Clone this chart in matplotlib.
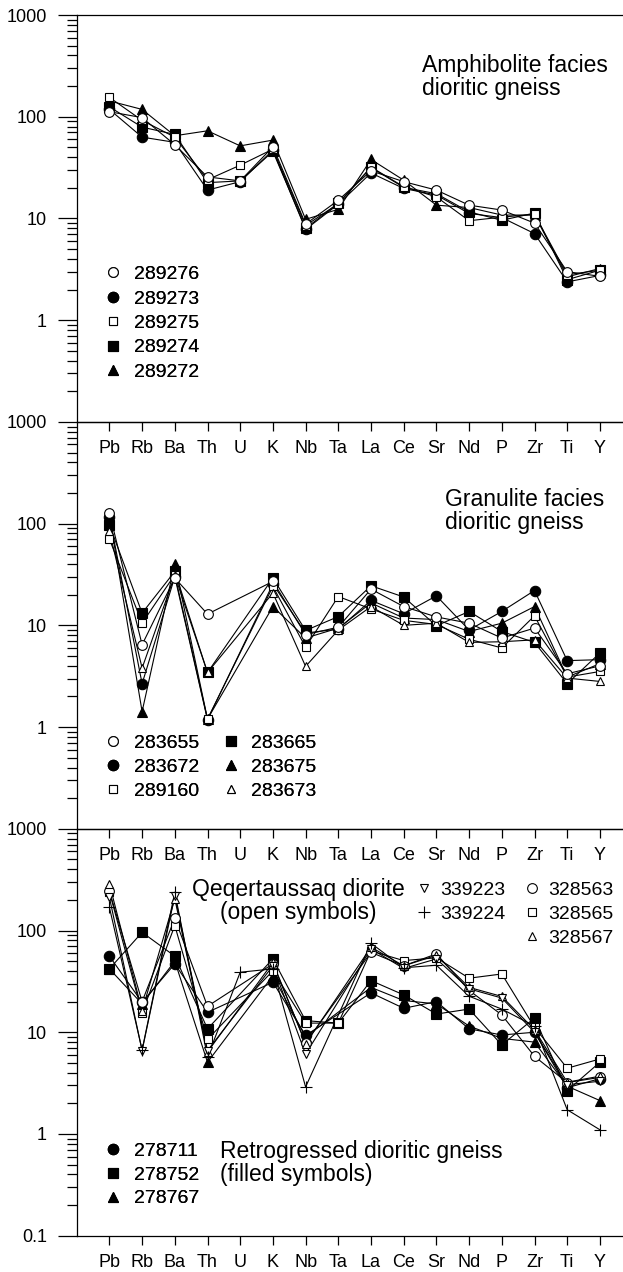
import numpy as np
import matplotlib
matplotlib.use('Agg')
import matplotlib.pyplot as plt
from matplotlib.lines import Line2D
from matplotlib.ticker import LogLocator, NullFormatter

plt.rcParams['font.family'] = ['Liberation Sans', 'DejaVu Sans']

nan = np.nan
elements = ['Pb', 'Rb', 'Ba', 'Th', 'U', 'K', 'Nb', 'Ta', 'La', 'Ce', 'Sr', 'Nd', 'P', 'Zr', 'Ti', 'Y']

# amphibolite facies dioritic gneiss
s289276 = [112, 98, 53, 25.6, 23.4, 50.6, 8.8, 15.1, 29.4, 23, 19, 13.5, 12.1, 9.0, 3.0, 2.7]
s289273 = [118, 63, 56, 19, 23, 47, 7.8, 13.8, 28, 19.7, 17, 11.2, 10.2, 7.1, 2.38, 2.75]
s289275 = [155, 92, 63, 24, 33.4, 48, 8.5, 14, 32, 20.5, 16.3, 9.5, 10.3, 11, 2.8, 3.1]
s289274 = [125, 79, 67, 22.5, 23.4, 45.6, 8.0, 14.1, 31.7, 20.2, 17.5, 11.6, 9.6, 11.3, 2.5, 3.1]
s289272 = [143, 118, 65, 72.7, 51.7, 58.9, 9.8, 12.3, 38, 23.8, 13.5, 12.8, 10.8, 10.8, 2.67, 3.22]

# granulite facies dioritic gneiss (no U)
s283655 = [127, 6.45, 29.2, 12.9, nan, 27, 8.1, 9.6, 22.7, 15.3, 12.1, 10.5, 7.5, 9.4, 3.34, 4.0]
s283672 = [117, 2.67, 30, 1.18, nan, 25.5, 8.4, 9.2, 17.6, 13, 19.5, 9.0, 13.7, 22, 4.5, 4.6]
s289160 = [70.6, 10.5, 31.5, 1.2, nan, 24.1, 6.1, 19.2, 14.5, 11.2, 10.2, 7.3, 6.0, 12.4, 3.1, 3.52]
s283665 = [97.6, 13.2, 33.9, 3.44, nan, 29.2, 8.9, 12.2, 24.5, 19, 9.9, 13.7, 8.7, 6.8, 2.67, 5.35]
s283675 = [120, 1.42, 40.3, 1.2, nan, 15.3, 7.5, 9.4, 16.6, 11.8, 11.4, 8.7, 10.5, 15.3, 3.1, 4.2]
s283673 = [83.8, 3.8, 31, 3.44, nan, 20.8, 3.95, 9.0, 15.3, 10, 10.5, 6.8, 6.9, 7.2, 3.03, 2.81]

# Qeqertaussaq diorite
s339223 = [212, 6.6, 220, 6.6, nan, 45, 6.1, nan, 66, 42.4, 52.6, 26.7, 21.7, 10, 3.05, 3.3]
s339224 = [169, 6.7, 238, 5.7, 38.9, 42, 2.9, nan, 75, 43, 45.6, 22.6, 16.9, 11.5, 1.73, 1.1]
s328563 = [244, 20, 132, 18, nan, 47, 7.9, nan, 61, 45, 58.9, 25.8, 14.8, 5.8, 3.2, 3.6]
s328565 = [240, 15.5, 112, 8.5, nan, 40.3, 12.3, 12.3, 63, 50.6, 54, 34, 37.4, 11.2, 4.43, 5.46]
s328567 = [287, 16.3, 205, 6.4, nan, 48.6, 7.7, nan, 68.5, 45, 57, 27.6, 22.5, 10.6, 3.23, 3.7]
# retrogressed dioritic gneiss
s278711 = [56, 19.7, 47, 15.7, nan, 31, 9.3, nan, 24.4, 17.2, 20, 10.8, 9.4, 10, 2.85, 3.5]
s278752 = [42, 96, 56, 10.8, nan, 52.6, 13, 12.3, 32.2, 23.3, 15.1, 16.9, 7.5, 13.8, 2.67, 5.07]
s278767 = [42, 19, 50, 5.07, nan, 36, 9, nan, 27.6, 20.5, 19, 11.5, 8.7, 8.0, 2.95, 2.13]

# symbol styles
o_open = dict(marker='o', ms=7, mfc='white')
o_fill = dict(marker='o', ms=7.5, mfc='black')
sq_open = dict(marker='s', ms=6.3, mfc='white')
sq_fill = dict(marker='s', ms=7.8, mfc='black')
tri_fill = dict(marker='^', ms=6.5, mfc='black')
tri_open = dict(marker='^', ms=6, mfc='white')
tri_down = dict(marker='v', ms=6, mfc='white')
plus = dict(marker='+', ms=8, mfc='black')

W, H = 623, 1272
fig = plt.figure(figsize=(W / 100, H / 100), dpi=100)

left = 76.7 / W
width = 17 * 32.7 / W
ph = 406.9 / H
bottoms = [1 - 421.9 / H, 1 - 828.8 / H, 1 - 1235.7 / H]
axes = [fig.add_axes([left, b, width, ph]) for b in bottoms]

x = np.arange(len(elements))


def draw(ax, series):
    # lines first, symbols on top; missing elements are skipped
    for vals, st in series:
        v = np.array(vals, float)
        m = ~np.isnan(v)
        ax.plot(x[m], v[m], color='black', lw=0.8, zorder=2)
    for vals, st in series:
        v = np.array(vals, float)
        m = ~np.isnan(v)
        ax.plot(x[m], v[m], ls='none', color='black', mec='black', mew=0.8, zorder=3, **st)


def style_axis(ax, yt):
    ax.patch.set_visible(False)
    ax.set_yscale('log')
    ax.set_ylim(0.1, 1000)
    ax.set_xlim(-1, 16)
    ax.set_yticks(yt, [('%g' % t) for t in yt])
    ax.yaxis.set_minor_locator(LogLocator(base=10, subs=np.arange(2, 10)))
    ax.yaxis.set_minor_formatter(NullFormatter())
    ax.set_xticks(x, elements)
    ax.spines['right'].set_visible(False)
    for s in ax.spines.values():
        s.set_linewidth(0.9)
    ax.tick_params(axis='y', which='major', length=14, width=0.9, pad=7.5, labelsize=13)
    ax.tick_params(axis='y', which='minor', length=7, width=0.9)
    ax.tick_params(axis='x', length=6.7, width=0.9, pad=6.5, labelsize=13)


def add_legend(ax, handles, labels, x0, y0, ncol=1, tpad=0.56, lsp=0.35, csp=1.14):
    leg = ax.legend(handles, labels, loc='upper left', ncol=ncol,
                    bbox_to_anchor=(x0 / W, 1 - y0 / H), bbox_transform=fig.transFigure,
                    frameon=False, borderpad=0, borderaxespad=0, handlelength=1.0,
                    handletextpad=tpad, labelspacing=lsp, columnspacing=csp,
                    fontsize=14, numpoints=1)
    ax.add_artist(leg)
    return leg


def key(st):
    return Line2D([], [], ls='none', color='black', mec='black', mew=0.8, **st)


# top panel
ax = axes[0]
draw(ax, [(s289273, o_fill), (s289274, sq_fill), (s289272, tri_fill),
          (s289275, sq_open), (s289276, o_open)])
style_axis(ax, [1, 10, 100, 1000])
add_legend(ax, [key(o_open), key(o_fill), key(sq_open), key(sq_fill), key(tri_fill)],
           ['289276', '289273', '289275', '289274', '289272'], 103.3, 265.5)
fig.text(422 / W, 1 - 76.7 / H, 'Amphibolite facies\ndioritic gneiss',
         ha='left', va='center', fontsize=16.5, linespacing=1.0)

# middle panel
ax = axes[1]
draw(ax, [(s283672, o_fill), (s283665, sq_fill), (s283675, tri_fill),
          (s289160, sq_open), (s283673, tri_open), (s283655, o_open)])
style_axis(ax, [1, 10, 100, 1000])
add_legend(ax, [key(o_open), key(o_fill), key(sq_open), key(sq_fill), key(tri_fill), key(tri_open)],
           ['283655', '283672', '289160', '283665', '283675', '283673'], 103.3, 734, ncol=2,
           lsp=0.34)
fig.text(445 / W, 1 - 511.5 / H, 'Granulite facies\ndioritic gneiss',
         ha='left', va='center', fontsize=16.5, linespacing=1.0)

# bottom panel
ax = axes[2]
draw(ax, [(s278711, o_fill), (s278752, sq_fill), (s278767, tri_fill),
          (s328565, sq_open), (s328563, o_open), (s328567, tri_open),
          (s339223, tri_down), (s339224, plus)])
style_axis(ax, [0.1, 1, 10, 100, 1000])
add_legend(ax, [key(tri_down), key(plus)], ['339223', '339224'], 414.3, 881, tpad=0.32, lsp=0.33)
add_legend(ax, [key(o_open), key(sq_open), key(tri_open)], ['328563', '328565', '328567'],
           522.3, 881, tpad=0.32, lsp=0.33)
add_legend(ax, [key(o_fill), key(sq_fill), key(tri_fill)], ['278711', '278752', '278767'],
           103.3, 1142.5, lsp=0.31)
fig.text(298 / W, 1 - 901 / H, 'Qeqertaussaq diorite\n(open symbols)',
         ha='center', va='center', fontsize=16.5, linespacing=1.0, multialignment='center')
fig.text(220.5 / W, 1 - 1163.3 / H, 'Retrogressed dioritic gneiss\n(filled symbols)',
         ha='left', va='center', fontsize=16.5, linespacing=1.0)

fig.savefig('out.png', dpi=100)
